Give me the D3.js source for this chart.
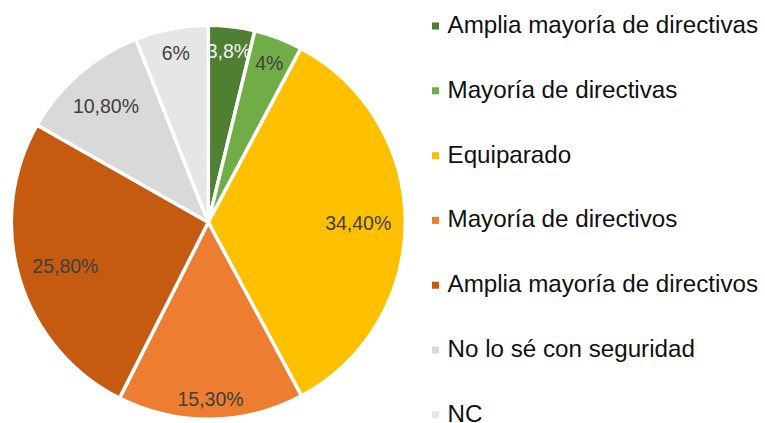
<!DOCTYPE html>
<html>
<head>
<meta charset="utf-8">
<script src="https://cdn.jsdelivr.net/npm/d3@7"></script>
<style>
  html, body { margin: 0; padding: 0; background: #fff; }
  svg { display: block; }
</style>
</head>
<body>
<svg id="chart" width="765" height="423"></svg>
<script>
const categories = [
  "Amplia mayoría de directivas",
  "Mayoría de directivas",
  "Equiparado",
  "Mayoría de directivos",
  "Amplia mayoría de directivos",
  "No lo sé con seguridad",
  "NC"
];
const values = [3.8, 4, 34.4, 15.3, 25.8, 10.8, 6];
const valueLabels = ["3,8%", "4%", "34,40%", "15,30%", "25,80%", "10,80%", "6%"];
const colors = ["#4F7F31", "#70AD47", "#FFC000", "#ED7D31", "#C55A11", "#D9D9D9", "#E7E6E6"];
const labelColors = ["#F2F2F2", "#404040", "#404040", "#404040", "#404040", "#404040", "#404040"];

const svg = d3.select("#chart");
const cx = 208.3, cy = 222.3, R = 197;

const pie = d3.pie().sort(null).value(d => d).startAngle(0).endAngle(2 * Math.PI);
const arcs = pie(values);
const arc = d3.arc().innerRadius(0).outerRadius(R);

const g = svg.append("g").attr("transform", `translate(${cx},${cy})`);

g.selectAll("path.slice")
  .data(arcs)
  .join("path")
  .attr("class", "slice")
  .attr("d", arc)
  .attr("fill", (d, i) => colors[i])
  .attr("stroke", "#fff")
  .attr("stroke-width", 3.5)
  .attr("stroke-linejoin", "round");

// value labels, placed "inside end"
const R0 = 183;
const labels = g.selectAll("text.val")
  .data(arcs)
  .join("text")
  .attr("class", "val")
  .attr("font-family", "'Liberation Sans', Arial, sans-serif")
  .attr("font-size", 19.5)
  .attr("fill", (d, i) => labelColors[i])
  .attr("text-anchor", "middle")
  .attr("dominant-baseline", "central")
  .text((d, i) => valueLabels[i]);

labels.each(function(d) {
  const node = d3.select(this);
  const bb = this.getBBox();
  const w = bb.width, h = 14;
  const a = (d.startAngle + d.endAngle) / 2;
  const ux = Math.sin(a), uy = -Math.cos(a);
  const dist = R0 - (w / 2 * Math.abs(ux) + h / 2 * Math.abs(uy));
  node.attr("x", ux * dist).attr("y", uy * dist + 1);
});

// legend
const legend = svg.append("g").attr("transform", "translate(432,26)");
const rowH = 64.8;
const rows = legend.selectAll("g.row")
  .data(categories)
  .join("g")
  .attr("class", "row")
  .attr("transform", (d, i) => `translate(0,${i * rowH})`);

rows.append("rect")
  .attr("x", 0).attr("y", -3.5)
  .attr("width", 7).attr("height", 7)
  .attr("fill", (d, i) => colors[i]);

rows.append("text")
  .attr("x", 15.5).attr("y", 7)
  .attr("font-family", "'Liberation Sans', Arial, sans-serif")
  .attr("font-size", 24.2)
  .attr("fill", "#111")
  .text(d => d);
</script>
</body>
</html>
